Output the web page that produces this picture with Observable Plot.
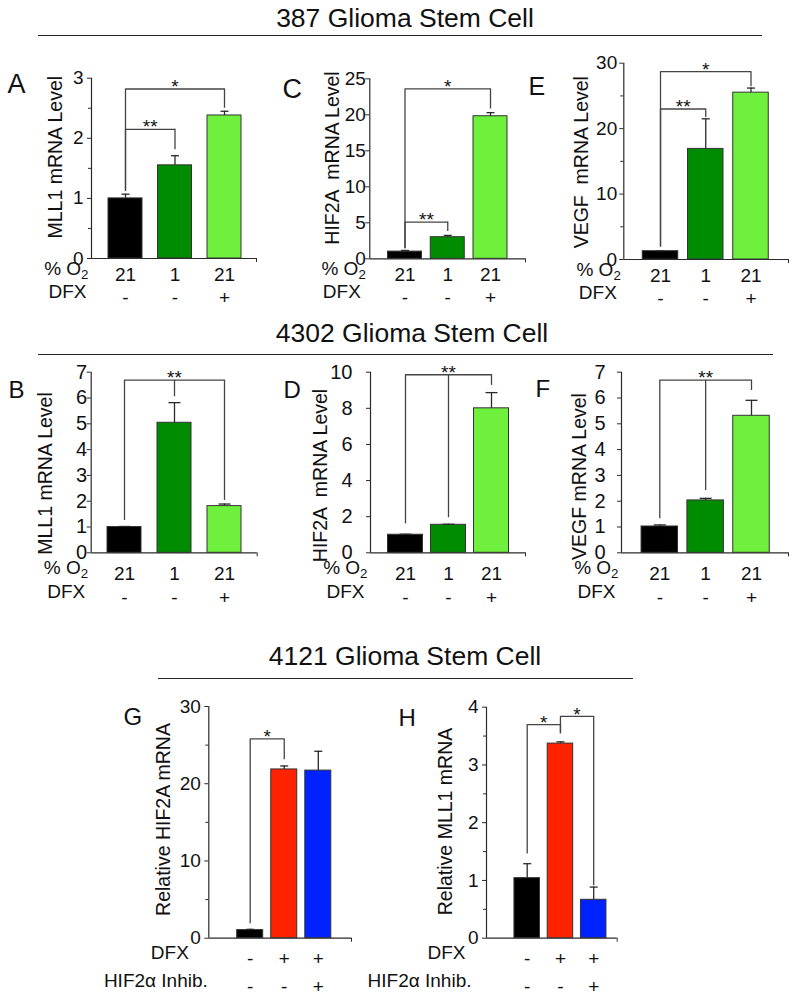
<!DOCTYPE html>
<html><head><meta charset="utf-8">
<script src="https://cdn.jsdelivr.net/npm/d3@7"></script>
<script src="https://cdn.jsdelivr.net/npm/@observablehq/plot@0.6"></script>
<style>
body{margin:0;background:#fff;}
#fig{position:relative;width:800px;height:1001px;font-family:"Liberation Sans",Arial,sans-serif;color:#111;overflow:hidden;background:#fff}
.title{position:absolute;font-size:26.5px;line-height:26px;white-space:nowrap;transform:translateX(-50%)}
.rule{position:absolute;height:0;border-top:1.5px solid #222}
</style></head><body><div id="fig"></div>
<script>
// ---------- data ----------
const titles = ["387 Glioma Stem Cell", "4302 Glioma Stem Cell", "4121 Glioma Stem Cell"];
const o2Row = ["21", "1", "21"];
const dfxRowHypoxia = ["-", "-", "+"];
const dfxRowInhib = ["-", "+", "+"];
const inhibRow = ["-", "-", "+"];

const mll1_387 = [1.0, 1.55, 2.38];
const mll1_387Err = [0.07, 0.16, 0.07];
const hif2a_387 = [1.0, 3.0, 19.8];
const hif2a_387Err = [0.16, 0.25, 0.5];
const vegf_387 = [1.27, 16.9, 25.5];
const vegf_387Err = [0.05, 4.6, 0.7];

const mll1_4302 = [1.0, 5.04, 1.81];
const mll1_4302Err = [0.02, 0.78, 0.08];
const hif2a_4302 = [1.0, 1.55, 8.0];
const hif2a_4302Err = [0.03, 0.03, 0.87];
const vegf_4302 = [1.02, 2.03, 5.31];
const vegf_4302Err = [0.06, 0.08, 0.6];

const hif2a_4121 = [1.05, 21.85, 21.7];
const hif2a_4121Err = [0.1, 0.45, 2.5];
const mll1_4121 = [1.04, 3.37, 0.665];
const mll1_4121Err = [0.25, 0.03, 0.22];

// significance brackets: legs = [category index, bottom of leg]
const sigA = [{label: "*", y: 2.82, legs: [[0, 1.12], [2, 2.5]]}, {label: "**", y: 2.15, legs: [[0, 1.12], [1, 1.81]]}];
const sigC = [{label: "*", y: 23.6, legs: [[0, 1.4], [2, 20.8]]}, {label: "**", y: 5.1, legs: [[0, 1.4], [1, 3.8]]}];
const sigE = [{label: "*", y: 28.7, legs: [[0, 1.9], [2, 26.4]]}, {label: "**", y: 23.0, legs: [[0, 1.9], [1, 21.7]]}];
const sigB = [{label: "**", y: 6.69, legs: [[0, 1.25], [1, 6.05], [2, 2.03]]}];
const sigD = [{label: "**", y: 9.86, legs: [[0, 1.6], [1, 1.94], [2, 9.27]]}];
const sigF = [{label: "**", y: 6.69, legs: [[0, 1.32], [1, 2.41], [2, 6.29]]}];
const sigG = [{label: "*", y: 25.8, legs: [[0, 1.86], [1, 23.1]]}];
const sigH = [{label: "*", y: 3.70, legs: [[0, 1.46], [1, 3.54]]}, {label: "*", y: 3.84, legs: [[1, 3.54], [2, 0.91]]}];

// ---------- styles ----------
const greens = ["#000000", "#008c00", "#6ff03c"];
const redBlue = ["#000000", "#ff2200", "#0022ff"];
const FONT = "'Liberation Sans', Arial, sans-serif";

const fig = document.getElementById("fig");

function addTitle(text, cx, top) {
  const d = document.createElement("div");
  d.className = "title"; d.textContent = text;
  d.style.left = cx + "px"; d.style.top = top + "px";
  fig.appendChild(d);
}
function addRule(x1, x2, y) {
  const d = document.createElement("div");
  d.className = "rule";
  d.style.left = x1 + "px"; d.style.width = (x2 - x1) + "px"; d.style.top = y + "px";
  fig.appendChild(d);
}

function panel(p) {
  const ml = p.axisX - p.left, mr = p.left + p.width - p.axisEnd;
  const mt = p.yTop - p.top, mb = p.top + p.height - p.yZero;
  const lo = (p.axisX - p.c0) / p.step, hi = (p.axisEnd - p.c0) / p.step;
  const half = p.barPx / 2 / p.step, cap = p.capPx / 2 / p.step;
  const rows = p.values.map((v, i) => ({i, v, e: p.errors[i], fill: p.colors[i]}));
  const legs = p.sig.flatMap(s => s.legs.map(([i, b]) => ({i, b, y: s.y})));
  const midY = (p.yTop + p.yZero) / 2;
  const fs = p.fs || 19;
  const tfs = p.tickFs || fs;
  const ink = "#2a2a2a";
  const marks = [
    Plot.ruleY([0], {stroke: ink, strokeWidth: 1.2}),
    Plot.ruleX([lo], {stroke: ink, strokeWidth: 1.2}),
    Plot.axisY({ticks: p.major, tickSize: 4, tickPadding: p.tickPad, tickFormat: d => String(d), fontSize: tfs, label: null, stroke: ink}),
    ...(p.minor ? [Plot.axisY({ticks: p.minor, tickSize: 3, tickFormat: () => "", label: null, stroke: ink})] : []),
    Plot.axisX({ticks: [hi], tickSize: 4, tickFormat: () => "", label: null, stroke: ink}),
    Plot.rectY(rows, {x1: d => d.i - half, x2: d => d.i + half, y1: 0, y2: "v", fill: "fill", stroke: "#333", strokeWidth: 1}),
    Plot.ruleX(rows, {x: "i", y1: "v", y2: d => d.v + d.e, stroke: ink, strokeWidth: 1.3}),
    Plot.link(rows, {x1: d => d.i - cap, x2: d => d.i + cap, y1: d => d.v + d.e, y2: d => d.v + d.e, stroke: ink, strokeWidth: 1.3}),
    Plot.ruleX(legs, {x: "i", y1: "b", y2: "y", stroke: "#444", strokeWidth: 1.3}),
    Plot.link(p.sig, {x1: s => s.legs[0][0], x2: s => s.legs[s.legs.length - 1][0], y1: "y", y2: "y", stroke: "#444", strokeWidth: 1.3}),
    Plot.text(p.sig, {x: s => (s.legs[0][0] + s.legs[s.legs.length - 1][0]) / 2, y: "y", text: "label", dy: -2, fontSize: 19}),
    ...p.rows.map(r => Plot.text(rows, {x: "i", y: 0, dy: r.dy, text: d => r.values[d.i], fontSize: fs})),
    ...p.rows.map(r => Plot.text([r.label], {frameAnchor: "bottom-left", dx: r.dx, dy: r.dy, textAnchor: "end", fontSize: fs})),
    Plot.text([p.ylabel], {frameAnchor: "left", textAnchor: "middle", rotate: -90, dx: p.ylabelX - p.axisX, dy: p.ylabelY - midY, fontSize: p.ylabelFont || 19.5}),
    Plot.text([p.letter], {frameAnchor: "top-left", dx: p.letterX - p.axisX, dy: p.letterY - p.yTop, textAnchor: "start", fontSize: p.letterFont})
  ];
  const svg = Plot.plot({
    width: p.width, height: p.height,
    marginLeft: ml, marginRight: mr, marginTop: mt, marginBottom: mb,
    x: {type: "linear", domain: [lo, hi]},
    y: {domain: [0, p.yMax]},
    color: {type: "identity"},
    style: {fontFamily: FONT, fontSize: fs + "px", background: "transparent", overflow: "visible",
            position: "absolute", left: p.left + "px", top: p.top + "px", color: "#111", maxWidth: "none"},
    marks
  });
  // subscript for O2
  d3.select(svg).selectAll("text").each(function () {
    if (this.textContent === "% O2") {
      this.textContent = "% O";
      const t = document.createElementNS("http://www.w3.org/2000/svg", "tspan");
      t.setAttribute("dy", "0.35em");
      t.setAttribute("font-size", "70%");
      t.textContent = "2";
      this.appendChild(t);
    }
  });
  fig.appendChild(svg);
}

// ---------- layout ----------
addTitle(titles[0], 405, 4.7);
addRule(38, 762, 34.5);
addTitle(titles[1], 412, 320);
addRule(38, 773, 353.5);
addTitle(titles[2], 405, 643);
addRule(158, 633, 677.5);

const row1 = {top: 40, height: 270, capPx: 8};
const rows1 = [{label: "% O2", values: o2Row, dy: 16, dx: -3}, {label: "DFX", values: dfxRowHypoxia, dy: 39.5, dx: -5}];

panel({...row1, left: 0, width: 262, axisX: 91, axisEnd: 256, c0: 125, step: 49.5, barPx: 34,
  yTop: 77.7, yZero: 258, yMax: 3, major: [0, 1, 2, 3], minor: [0.5, 1.5, 2.5], tickPad: 4,
  values: mll1_387, errors: mll1_387Err, colors: greens, sig: sigA,
  rows: rows1, ylabel: "MLL1 mRNA Level", ylabelX: 55, ylabelY: 156.7,
  letter: "A", letterX: 7, letterY: 73, letterFont: 27});

panel({...row1, left: 262, width: 268, axisX: 369.3, axisEnd: 525, c0: 404.5, step: 42.75, barPx: 34,
  yTop: 78.3, yZero: 258.3, yMax: 25, major: [0, 5, 10, 15, 20, 25], tickPad: 0,
  values: hif2a_387, errors: hif2a_387Err, colors: greens, sig: sigC,
  rows: [{...rows1[0], dx: -4}, {...rows1[1], dx: -9}], ylabel: "HIF2A  mRNA Level", ylabelX: 332, ylabelY: 157.5,
  letter: "C", letterX: 282, letterY: 78, letterFont: 27});

panel({...row1, left: 520, width: 280, axisX: 623.3, axisEnd: 788, c0: 660, step: 45.25, barPx: 35.5,
  yTop: 62.7, yZero: 259, yMax: 30, major: [0, 10, 20, 30], minor: [5, 15, 25], tickPad: 2.6,
  values: vegf_387, errors: vegf_387Err, colors: greens, sig: sigE,
  rows: [{...rows1[0], dx: -3}, {...rows1[1], dx: -7}], ylabel: "VEGF  mRNA Level", ylabelX: 581.7, ylabelY: 161.7,
  letter: "E", letterX: 528, letterY: 76.7, letterFont: 25});

const row2 = {top: 356, height: 255, capPx: 12, yTop: 371.7, yZero: 552.3, tickFs: 20};
const rows2 = [{label: "% O2", values: o2Row, dy: 20.7, dx: -3}, {label: "DFX", values: dfxRowHypoxia, dy: 44.7, dx: -6}];

panel({...row2, left: 0, width: 262, axisX: 90.7, axisEnd: 256.7, c0: 124, step: 50, barPx: 34,
  yMax: 7, major: [0, 1, 2, 3, 4, 5, 6, 7], tickPad: 0,
  values: mll1_4302, errors: mll1_4302Err, colors: greens, sig: sigB,
  rows: rows2, ylabel: "MLL1 mRNA Level", ylabelX: 45.5, ylabelY: 473,
  letter: "B", letterX: 8, letterY: 380, letterFont: 24});

panel({...row2, left: 262, width: 268, axisX: 370, axisEnd: 525, c0: 405, step: 43, barPx: 35,
  yMax: 10, major: [0, 2, 4, 6, 8, 10], tickPad: 14,
  values: hif2a_4302, errors: hif2a_4302Err, colors: greens, sig: sigD,
  rows: rows2, ylabel: "HIF2A  mRNA Level", ylabelX: 320.7, ylabelY: 475,
  letter: "D", letterX: 283, letterY: 380, letterFont: 24});

panel({...row2, left: 520, width: 280, axisX: 621, axisEnd: 788, c0: 659.3, step: 45.85, barPx: 36.5,
  yMax: 7, major: [0, 1, 2, 3, 4, 5, 6, 7], tickPad: 12,
  values: vegf_4302, errors: vegf_4302Err, colors: greens, sig: sigF,
  rows: rows2, ylabel: "VEGF mRNA Level", ylabelX: 579, ylabelY: 476,
  letter: "F", letterX: 535, letterY: 379.5, letterFont: 24});

const row3 = {top: 680, height: 321, capPx: 8};

panel({...row3, left: 95, width: 265, axisX: 208.3, axisEnd: 351, c0: 249.7, step: 34.05, barPx: 26,
  yTop: 706, yZero: 937.7, yMax: 30, major: [0, 10, 20, 30], minor: [5, 15, 25], tickPad: 4,
  values: hif2a_4121, errors: hif2a_4121Err, colors: redBlue, sig: sigG,
  rows: [{label: "DFX", values: dfxRowInhib, dy: 20.6, dx: -20}, {label: "HIF2α Inhib.", values: inhibRow, dy: 49, dx: -1}],
  ylabel: "Relative HIF2A mRNA", ylabelX: 163.3, ylabelY: 819,
  letter: "G", letterX: 123, letterY: 707.5, letterFont: 24});

panel({...row3, left: 355, width: 275, axisX: 486, axisEnd: 616.7, c0: 526.7, step: 33.25, barPx: 25.5,
  yTop: 706.7, yZero: 937.7, yMax: 4, major: [0, 1, 2, 3, 4], minor: [0.5, 1.5, 2.5, 3.5], tickPad: 4,
  values: mll1_4121, errors: mll1_4121Err, colors: redBlue, sig: sigH,
  rows: [{label: "DFX", values: dfxRowInhib, dy: 20.6, dx: -21}, {label: "HIF2α Inhib.", values: inhibRow, dy: 49, dx: -15}],
  ylabel: "Relative MLL1 mRNA", ylabelX: 445, ylabelY: 821,
  letter: "H", letterX: 398, letterY: 708.5, letterFont: 24});
</script></body></html>
